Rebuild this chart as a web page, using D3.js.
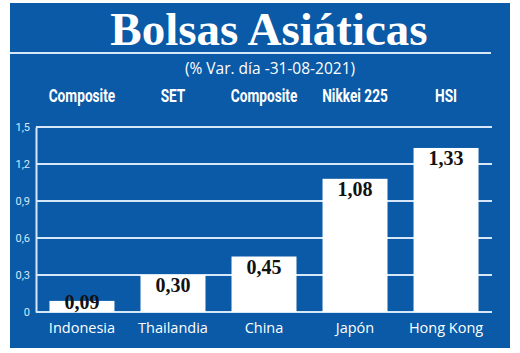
<!DOCTYPE html>
<html>
<head>
<meta charset="utf-8">
<script src="https://cdn.jsdelivr.net/npm/d3@7"></script>
<style>
  body { margin: 0; background: #fff; }
  svg { display: block; }
</style>
</head>
<body>
<script>
// chart data
var countries = ["Indonesia", "Thailandia", "China", "Japón", "Hong Kong"];
var indices = ["Composite", "SET", "Composite", "Nikkei 225", "HSI"];
var values = [0.09, 0.30, 0.45, 1.08, 1.33];
var yTicks = [0, 0.3, 0.6, 0.9, 1.2, 1.5];
var yTickLabels = ["0", "0,3", "0,6", "0,9", "1,2", "1,5"];

var width = 520,
  height = 353;

var blue = "#0a5aa7",
  grid = "#d6e8f7";

var svg = d3.select("body").append("svg").attr("width", width).attr("height", height);

// blue panel
svg.append("rect")
  .attr("x", 10).attr("y", 3)
  .attr("width", 500).attr("height", 345)
  .attr("fill", blue);

// title
svg.append("text")
  .attr("x", 269).attr("y", 45)
  .attr("text-anchor", "middle")
  .attr("fill", "#fff")
  .attr("font-family", "Liberation Serif, serif")
  .attr("font-weight", "bold")
  .attr("font-size", 47)
  .text("Bolsas Asiáticas");

svg.append("line")
  .attr("x1", 10).attr("x2", 491)
  .attr("y1", 53).attr("y2", 53)
  .attr("stroke", grid).attr("stroke-width", 2);

svg.append("text")
  .attr("x", 270).attr("y", 74)
  .attr("text-anchor", "middle")
  .attr("fill", "#fff")
  .attr("font-family", "Open Sans, sans-serif")
  .attr("font-size", 15.5)
  .text("(% Var. día -31-08-2021)");

// scales
var x = d3.scaleBand()
  .domain(countries)
  .range([36, 492])
  .paddingInner(0.286)
  .paddingOuter(0.148);

var y = d3.scaleLinear()
  .domain([0, 1.5])
  .range([312, 127]);

// gridlines
svg.append("g")
  .selectAll("line")
  .data(yTicks)
  .join("line")
  .attr("x1", 36).attr("x2", 492)
  .attr("y1", function (d) { return y(d); })
  .attr("y2", function (d) { return y(d); })
  .attr("stroke", grid)
  .attr("stroke-width", 2);

// y axis
var yAxis = svg.append("g")
  .attr("transform", "translate(36,0)")
  .call(d3.axisLeft(y)
    .tickValues(yTicks)
    .tickSize(0)
    .tickPadding(6)
    .tickFormat(function (d, i) { return yTickLabels[i]; }));
yAxis.select(".domain").attr("stroke", grid).attr("stroke-width", 2);
yAxis.selectAll("text")
  .attr("fill", grid)
  .attr("font-family", "Roboto, sans-serif")
  .attr("font-size", 11)
  .attr("dy", "0.3em");

// bars
svg.append("g")
  .selectAll("rect")
  .data(values)
  .join("rect")
  .attr("x", function (d, i) { return x(countries[i]); })
  .attr("y", function (d) { return y(d); })
  .attr("width", x.bandwidth())
  .attr("height", function (d) { return y(0) - y(d); })
  .attr("fill", "#fff");

// value labels
svg.append("g")
  .selectAll("text")
  .data(values)
  .join("text")
  .attr("x", function (d, i) { return x(countries[i]) + x.bandwidth() / 2; })
  .attr("y", function (d) { return Math.min(y(d) + 17, y(0) - 3); })
  .attr("text-anchor", "middle")
  .attr("fill", "#111")
  .attr("font-family", "Liberation Serif, serif")
  .attr("font-weight", "bold")
  .attr("font-size", 20)
  .text(function (d) { return d.toFixed(2).replace(".", ","); });

// country labels
svg.append("g")
  .selectAll("text")
  .data(countries)
  .join("text")
  .attr("x", function (d) { return x(d) + x.bandwidth() / 2; })
  .attr("y", 333)
  .attr("text-anchor", "middle")
  .attr("fill", "#fff")
  .attr("font-family", "Open Sans, sans-serif")
  .attr("font-size", 14.5)
  .text(function (d) { return d; });

// index names (condensed bold)
svg.append("g")
  .selectAll("text")
  .data(indices)
  .join("text")
  .attr("transform", function (d, i) {
    var cx = x(countries[i]) + x.bandwidth() / 2;
    return "translate(" + cx + ",102) scale(0.72,1)";
  })
  .attr("text-anchor", "middle")
  .attr("fill", "#fff")
  .attr("font-family", "Roboto, sans-serif")
  .attr("font-weight", "bold")
  .attr("font-size", 19)
  .text(function (d) { return d; });
</script>
</body>
</html>
